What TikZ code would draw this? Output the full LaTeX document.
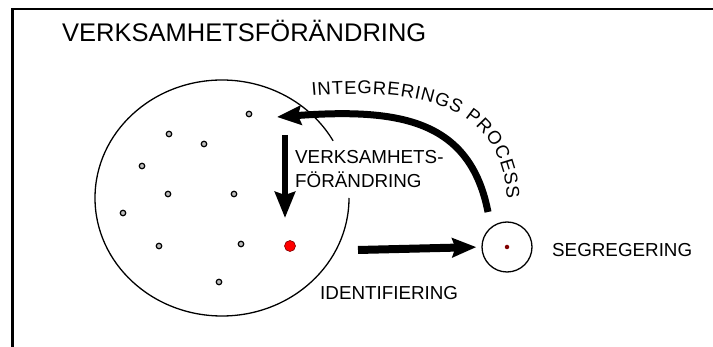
\documentclass[tikz,border=0pt]{standalone}
\usepackage{fontspec}
\setmainfont{Liberation Sans}
\usetikzlibrary{arrows.meta, positioning, decorations.text}

\tikzset{
  ring/.style={line width=1.3pt},
  dot/.style={circle, draw, line width=1.2pt, fill=gray!50, inner sep=0pt, minimum size=5.5pt},
  bigarrow/.style={line width=7pt, -{Stealth[length=24pt, width=19pt, inset=3pt]}},
  lbl/.style={font=\fontsize{18.8}{24}\selectfont, inner sep=0pt},
}

\begin{document}
\begin{tikzpicture}[x=1pt, y=-1pt]
  \useasboundingbox (0,0) rectangle (713,347);
  % frame
  \draw[line width=2.5pt] (12.5,347) -- (12.5,9) -- (713,9);

  \node[anchor=base west, inner sep=0pt, font=\fontsize{25.5}{30}\selectfont] (title) at (62,42) {VERKSAMHETSFÖRÄNDRING};

  % the organisation, open where the label sits
  \draw[ring] (349,198) arc[start angle=0, end angle=331, x radius=127, y radius=118];
  \foreach \x/\y [count=\i] in {249/114, 169/134, 204/144, 142/166, 168/194, 234/194,
                                123/213, 159/246, 241/244, 219/282}
    \node[dot] (dot\i) at (\x,\y) {};
  \node[circle, fill=red, draw=red!50!black, line width=0.6pt, minimum size=11pt, inner sep=0pt] (target) at (290,246) {};

  % segregated unit
  \node[circle, draw, ring, minimum size=50pt, inner sep=0pt] (seg) at (507,247) {};
  \node[circle, fill=red!50!black, minimum size=4.5pt, inner sep=0pt] (segdot) at (seg.center) {};
  \node[lbl, anchor=base west] (seglbl) at (552,257) {SEGREGERING};

  % arrows
  \coordinate (idfrom) at (358,250);
  \draw[bigarrow, line width=8pt, shorten >=5pt] (idfrom) -- (seg.west);
  \node[lbl, anchor=base west] (idlbl) at (320,300) {IDENTIFIERING};

  \coordinate (vfrom) at (285,135);
  \coordinate (vto) at (285,218);
  \draw[bigarrow, line width=6pt, -{Stealth[length=26pt, width=20pt, inset=3pt]}] (vfrom) -- (vto);
  \node[lbl, align=left, anchor=north west, fill=white] (vlbl) at (295,150) {VERKSAMHETS-\\FÖRÄNDRING};

  \coordinate (intfrom) at (488,212);
  \coordinate (intto) at (277,117);
  \draw[bigarrow] (intfrom) .. controls (470,120) and (400,108) .. (intto);
  \path[decorate, decoration={text along path, text align=fit to path,
      text={|\fontsize{18.5}{22}\selectfont|INTEGRERINGS PROCESS}}]
    (312,96) .. controls (430,86) and (502,110) .. (507,199);
\end{tikzpicture}
\end{document}
